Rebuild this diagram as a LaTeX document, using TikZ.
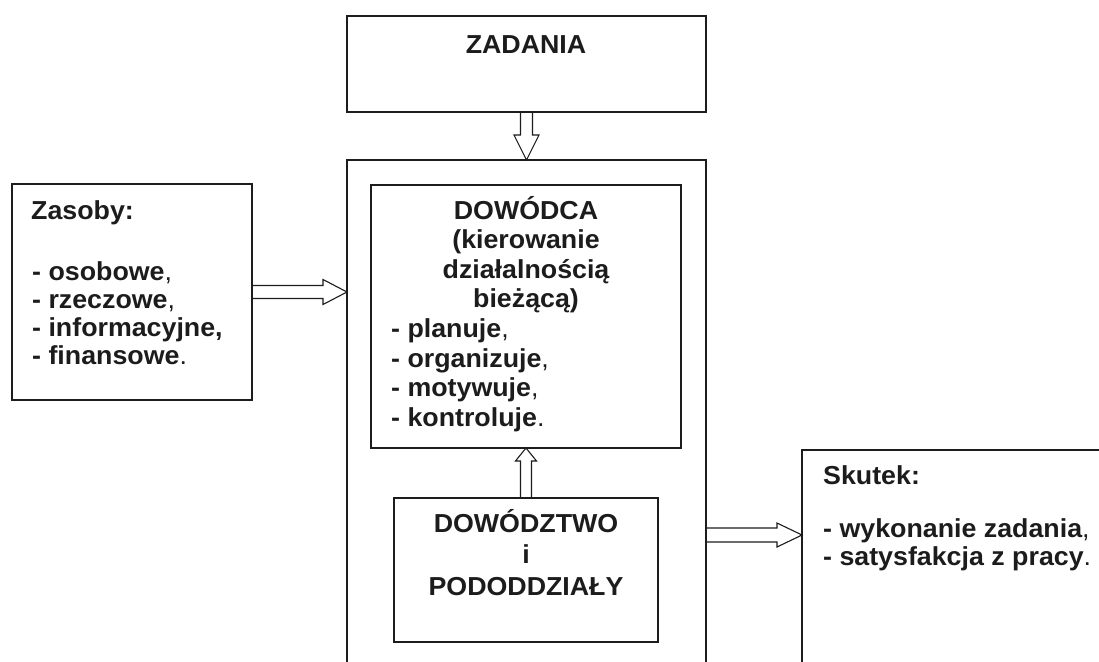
\documentclass[tikz,border=0pt]{standalone}
\usepackage{fontspec}
\newfontfamily\lab{Liberation Sans}[FakeStretch=1.03]
\usetikzlibrary{calc}
\definecolor{ink}{HTML}{1C1C1C}
\newcommand{\mlines}[2]{\begin{tabular}[t]{@{}#1@{}}#2\end{tabular}}
\newcommand{\lp}[1]{{\mdseries #1}}
\begin{document}
\begin{tikzpicture}[x=1pt,y=-1pt,
  box/.style={draw=ink,line width=1.3pt,outer sep=0pt,inner sep=0pt,anchor=north west},
  arr/.style={draw=ink,line width=1.1pt,line join=miter},
  txt/.style={inner sep=0pt,text=ink,font=\lab\bfseries\fontsize{26}{28}\selectfont},
  txtd/.style={txt,font=\lab\bfseries\fontsize{26}{29.5}\selectfont},
  txtz/.style={txt,font=\lab\bfseries\fontsize{26}{31.5}\selectfont}]
\useasboundingbox (0,0) rectangle (1099,661);
\fill[white] (0,0) rectangle (1099,661);
\clip (0,0) rectangle (1099,661);
% boxes
\node[box,minimum width=359pt,minimum height=96pt] (zad) at (347,16) {};
\node[box,minimum width=359pt,minimum height=560pt] (outer) at (347,160) {};
\node[box,minimum width=240pt,minimum height=216pt] (zas) at (12,184) {};
\node[box,minimum width=310pt,minimum height=263pt] (dow) at (371,185) {};
\node[box,minimum width=264pt,minimum height=144pt] (dz) at (394,498) {};
\node[box,minimum width=330pt,minimum height=300pt] (sk) at (802,450) {};
% texts
\node[txt,anchor=base] (zadT) at (526,53) {ZADANIA};
\node[txt,anchor=base west] (zasH) at (31,219) {Zasoby:};
\node[txt,anchor=base west] (zasL) at (32,280) {\mlines{l}{- osobowe\lp{,}\\- rzeczowe\lp{,}\\- informacyjne,\\- finansowe\lp{.}}};
\node[txtd,anchor=base] (dowT) at (526,219) {\mlines{c}{DOWÓDCA\\(kierowanie\\działalnością\\bieżącą)}};
\node[txtd,anchor=base west] (dowL) at (391,337.5) {\mlines{l}{- planuje\lp{,}\\- organizuje\lp{,}\\- motywuje\lp{,}\\- kontroluje\lp{.}}};
\node[txtz,anchor=base] (dzT) at (526,532) {\mlines{c}{DOWÓDZTWO\\i\\PODODDZIAŁY}};
\node[txt,anchor=base west] (skH) at (823,484) {Skutek:};
\node[txt,anchor=base west] (skL) at (823,537) {\mlines{l}{- wykonanie zadania\lp{,}\\- satysfakcja z pracy\lp{.}}};
% block arrows
\draw[arr] ($(zad.south)+(-6,0)$) -- ($(outer.north)+(-6,-25)$) -- ($(outer.north)+(-12.5,-25)$) -- (outer.north)
  -- ($(outer.north)+(12.5,-25)$) -- ($(outer.north)+(6,-25)$) -- ($(zad.south)+(6,0)$);
\coordinate (lt) at (zas.east -| outer.west);
\draw[arr] ($(zas.east)+(0,-6.5)$) -- ($(lt)+(-24,-6.5)$) -- ($(lt)+(-24,-12.5)$) -- (lt)
  -- ($(lt)+(-24,12.5)$) -- ($(lt)+(-24,6.5)$) -- ($(zas.east)+(0,6.5)$);
\draw[arr] ($(dz.north)+(-5.5,0)$) -- ($(dow.south)+(-5.5,13)$) -- ($(dow.south)+(-10.5,13)$) -- (dow.south)
  -- ($(dow.south)+(10.5,13)$) -- ($(dow.south)+(5.5,13)$) -- ($(dz.north)+(5.5,0)$);
\coordinate (rs) at ($(outer.north east)+(0,375)$);
\coordinate (rt) at (rs -| sk.west);
\draw[arr] ($(rs)+(0,-7)$) -- ($(rt)+(-25,-7)$) -- ($(rt)+(-25,-12)$) -- (rt)
  -- ($(rt)+(-25,12)$) -- ($(rt)+(-25,7)$) -- ($(rs)+(0,7)$);
\end{tikzpicture}
\end{document}
